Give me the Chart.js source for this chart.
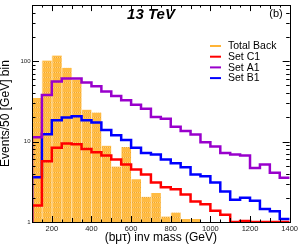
<!DOCTYPE html>
<html>
<head>
<meta charset="utf-8">
<script src="https://cdn.jsdelivr.net/npm/chart.js@4/dist/chart.umd.min.js"></script>
<style>
html, body { margin: 0; padding: 0; background: #fff; }
</style>
</head>
<body>
<canvas id="chart-area" width="300" height="245"></canvas>
<script>
// histogram bins, low edge in GeV, 50 GeV wide
var binEdges = [100, 150, 200, 250, 300, 350, 400, 450, 500, 550, 600, 650, 700,
                750, 800, 850, 900, 950, 1000, 1050, 1100, 1150, 1200, 1250, 1300, 1350];
var binWidth = 50;

var totalBack = [35, 102, 118, 83, 59, 25, 23, 8.9, 4.9, 8.6, 3.4, 2.06, 2.3,
                 1.17, 1.31, 1.09, 1.09, 0, 0, 0, 0, 0, 0, 0, 0, 0];
var setC1 = [1.6, 5.7, 8.4, 9.5, 9.3, 8.1, 7.4, 6.7, 6.0, 5.2, 4.5, 3.9, 3.1,
             2.7, 2.55, 2.2, 1.8, 1.66, 1.38, 1.23, 0, 1.03, 0, 0, 0, 0];
var setA1 = [11.3, 38, 56, 61, 61, 54.5, 49, 42, 37, 32.7, 28.7, 25.6, 20.3,
             19.3, 15.3, 13.6, 12.3, 9.8, 8.7, 7.2, 6.9, 6.7, 4.7, 5.2, 4.1, 3.55];
var setB1 = [3.6, 12.4, 18.5, 19.9, 20.7, 18.5, 17.3, 14, 12, 10.5, 8.4, 7.2, 6.9,
             6.0, 5.4, 4.8, 3.9, 3.7, 3.1, 2.4, 1.89, 2.0, 1.84, 1.45, 1.36, 1.09];

var xTickLabels = [200, 400, 600, 800, 1000, 1200, 1400];
var yTickLabels = [1, 10, 100];

var yMin = 1, yMax = 500;
var fontFamily = "'Liberation Sans', Arial, sans-serif";

// outline of a histogram, drawn as a stepped line from the bottom edge
function histLine(vals) {
  var pts = [{ x: binEdges[0], y: yMin }];
  for (var i = 0; i < vals.length; i++) {
    pts.push({ x: binEdges[i], y: vals[i] || yMin });
  }
  var last = vals.length - 1;
  pts.push({ x: binEdges[last] + binWidth, y: vals[last] || yMin });
  return pts;
}

function histBars(vals) {
  return vals.map(function(v, i) {
    return { x: binEdges[i] + binWidth / 2, y: v || null };
  });
}

// dotted orange fill like the ROOT hatch
function makeHatch(ctx) {
  var c = document.createElement('canvas');
  c.width = 4; c.height = 5;
  var g = c.getContext('2d');
  g.fillStyle = '#ffbb42'; g.fillRect(0, 0, 4, 5);
  g.fillStyle = '#efa52e'; g.fillRect(0, 2, 1, 1); g.fillRect(2, 2, 1, 1);
  g.fillStyle = '#ffd27e'; g.fillRect(1, 2, 1, 1); g.fillRect(3, 2, 1, 1);
  return ctx.createPattern(c, 'repeat');
}

var frameTicks = {
  id: 'frameTicks',
  afterDatasetsDraw: function(chart) {
    var ctx = chart.ctx, a = chart.chartArea;
    var xs = chart.scales.x, ys = chart.scales.y;
    ctx.save();
    ctx.strokeStyle = '#000';
    ctx.lineWidth = 1;
    ctx.beginPath();
    var v, px, len;
    for (v = xs.min; v <= xs.max; v += 50) {
      px = Math.round(xs.getPixelForValue(v)) + 0.5;
      len = v % 200 === 0 ? 6 : (v % 100 === 0 ? 4 : 2.5);
      ctx.moveTo(px, a.bottom); ctx.lineTo(px, a.bottom - len);
      ctx.moveTo(px, a.top); ctx.lineTo(px, a.top + len);
    }
    for (var d = 1; d <= ys.max; d *= 10) {
      for (var m = 1; m < 10; m++) {
        v = d * m;
        if (v > ys.max) break;
        var py = Math.round(ys.getPixelForValue(v)) + 0.5;
        len = m === 1 ? 7 : 3.5;
        ctx.moveTo(a.left, py); ctx.lineTo(a.left + len, py);
        ctx.moveTo(a.right, py); ctx.lineTo(a.right - len, py);
      }
    }
    ctx.stroke();
    ctx.strokeRect(Math.round(a.left) + 0.5, Math.round(a.top) + 0.5,
                   Math.round(a.right - a.left), Math.round(a.bottom - a.top));
    ctx.restore();
  }
};

var labels = {
  id: 'labels',
  afterDraw: function(chart) {
    var ctx = chart.ctx;
    ctx.save();
    ctx.fillStyle = '#000';
    ctx.textBaseline = 'middle';
    ctx.textAlign = 'center';
    ctx.font = 'italic bold 15px ' + fontFamily;
    ctx.fillText('13 TeV', 151, 15);
    ctx.font = '11px ' + fontFamily;
    ctx.fillText('(b)', 276, 14);

    // legend
    ctx.textAlign = 'left';
    ctx.font = '10.5px ' + fontFamily;
    chart.data.datasets.forEach(function(ds, i) {
      var y = 46 + i * 10.7;
      ctx.strokeStyle = ds.legendColor;
      ctx.lineWidth = 2;
      ctx.beginPath();
      ctx.moveTo(210, y); ctx.lineTo(221, y);
      ctx.stroke();
      ctx.fillStyle = '#000';
      ctx.fillText(ds.label, 228, y + 0.5);
    });
    ctx.restore();
  }
};

var ctx = document.getElementById('chart-area').getContext('2d');
new Chart(ctx, {
  type: 'line',
  data: {
    datasets: [
      {
        type: 'bar',
        label: 'Total Back',
        data: histBars(totalBack),
        backgroundColor: makeHatch(ctx),
        borderColor: 'rgba(255, 226, 170, 0.9)',
        borderWidth: { left: 1, right: 0, top: 0, bottom: 0 },
        borderSkipped: false,
        barPercentage: 1,
        categoryPercentage: 1,
        grouped: false,
        legendColor: '#ffb436',
        order: 10
      },
      {
        label: 'Set C1',
        data: histLine(setC1),
        borderColor: '#ff0000',
        legendColor: '#ff0000',
        borderWidth: 2.5,
        stepped: 'before',
        pointRadius: 0,
        fill: false,
        order: 0
      },
      {
        label: 'Set A1',
        data: histLine(setA1),
        borderColor: '#9900cc',
        legendColor: '#9900cc',
        borderWidth: 2.5,
        stepped: 'before',
        pointRadius: 0,
        fill: false,
        order: 0
      },
      {
        label: 'Set B1',
        data: histLine(setB1),
        borderColor: '#0000ff',
        legendColor: '#0000ff',
        borderWidth: 2.5,
        stepped: 'before',
        pointRadius: 0,
        fill: false,
        order: 0
      }
    ]
  },
  options: {
    responsive: false,
    animation: false,
    devicePixelRatio: 1,
    layout: { padding: { left: 0, right: 9, top: 1, bottom: 0 } },
    plugins: {
      legend: { display: false },
      tooltip: { enabled: false }
    },
    scales: {
      x: {
        type: 'linear',
        min: 100,
        max: 1400,
        offset: false,
        grid: { display: false, drawTicks: false },
        border: { display: false },
        afterBuildTicks: function(scale) {
          scale.ticks = xTickLabels.map(function(v) { return { value: v }; });
        },
        afterFit: function(scale) { scale.height = 23; },
        ticks: {
          autoSkip: false,
          maxRotation: 0,
          padding: 2,
          color: '#222',
          font: { family: fontFamily, size: 7.5 },
          callback: function(v) { return String(v); }
        },
        title: {
          display: true,
          text: '(bμτ) inv mass (GeV)',
          color: '#000',
          padding: 0,
          font: { family: fontFamily, size: 12, lineHeight: 1.2 }
        }
      },
      y: {
        type: 'logarithmic',
        min: yMin,
        max: yMax,
        grid: { display: false, drawTicks: false },
        border: { display: false },
        afterBuildTicks: function(scale) {
          scale.ticks = yTickLabels.map(function(v) { return { value: v }; });
        },
        afterFit: function(scale) { scale.width = 32; },
        ticks: {
          autoSkip: false,
          padding: 1.5,
          color: '#222',
          font: { family: fontFamily, size: 6 },
          callback: function(v) { return String(v); }
        },
        title: {
          display: true,
          text: 'Events/50 [GeV] bin',
          color: '#000',
          padding: 0,
          font: { family: fontFamily, size: 12, lineHeight: 1 }
        }
      }
    }
  },
  plugins: [frameTicks, labels]
});
</script>
</body>
</html>
